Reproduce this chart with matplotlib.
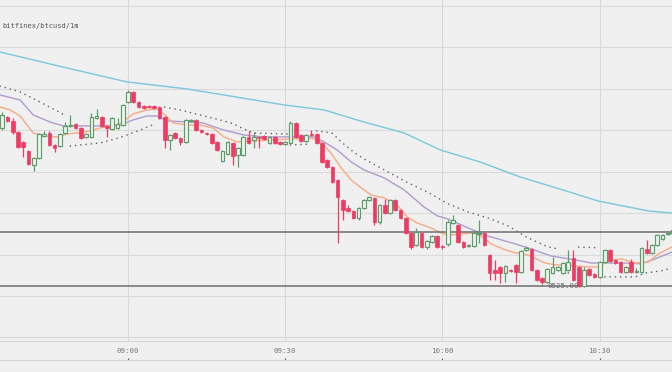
import numpy as np
import pandas as pd
import matplotlib
matplotlib.use("Agg")
import matplotlib.pyplot as plt

# bitfinex btcusd 1m candles, 08:36 onwards (prices)
start = "2019-01-01 08:36"
opens = [
    9601.0, 9606.3, 9604.4, 9599.1, 9594.3, 9589.9, 9583.2, 9586.5, 9597.1, 9598.6,
    9592.8, 9592.3, 9598.6, 9602.0, 9602.9, 9601.0, 9596.7, 9596.7, 9605.8, 9606.3,
    9602.0, 9600.5, 9601.0, 9602.4, 9613.5, 9618.4, 9613.5, 9611.6, 9611.6, 9611.6,
    9611.1, 9606.3, 9595.2, 9598.6, 9596.2, 9594.3, 9604.4, 9604.9, 9600.0, 9598.6,
    9598.1, 9594.3, 9585.1, 9588.5, 9593.8, 9588.0, 9588.0, 9596.7, 9595.2, 9596.7,
    9597.1, 9593.8, 9596.7, 9594.3, 9593.3, 9593.8, 9603.4, 9597.6, 9594.7, 9598.1,
    9598.1, 9593.8, 9585.6, 9582.2, 9575.9, 9566.3, 9562.4, 9561.0, 9557.6, 9562.4,
    9566.3, 9567.3, 9555.7, 9563.9, 9560.0, 9566.3, 9561.5, 9557.6, 9550.4, 9544.6,
    9550.4, 9543.6, 9546.1, 9548.9, 9544.1, 9545.1, 9555.2, 9554.2, 9546.1, 9544.1,
    9544.1, 9549.9, 9550.4, 9539.8, 9532.6, 9534.0, 9531.1, 9532.6, 9535.0, 9531.6,
    9542.2, 9542.7, 9532.6, 9528.7, 9526.8, 9531.1, 9532.6, 9531.1, 9532.6, 9538.3,
    9534.0, 9524.8, 9533.0, 9530.6, 9529.2, 9536.4, 9542.2, 9537.4, 9536.4, 9531.6,
    9536.4, 9531.6, 9531.6, 9542.7, 9540.8, 9544.6, 9547.5, 9549.9, 9550.4]
closes = [
    9607.3, 9604.4, 9599.1, 9591.8, 9591.8, 9583.7, 9586.5, 9598.1, 9598.1, 9592.8,
    9591.4, 9598.1, 9602.0, 9602.4, 9601.0, 9596.2, 9598.1, 9606.3, 9606.8, 9602.0,
    9601.0, 9605.8, 9602.9, 9612.1, 9618.4, 9613.5, 9611.1, 9610.6, 9611.1, 9610.6,
    9605.8, 9595.2, 9597.6, 9596.2, 9594.3, 9604.9, 9604.9, 9600.0, 9599.1, 9598.1,
    9593.8, 9590.4, 9589.9, 9594.3, 9587.5, 9591.4, 9596.7, 9593.8, 9596.7, 9596.2,
    9595.7, 9596.7, 9593.8, 9593.3, 9594.3, 9603.4, 9596.7, 9594.7, 9597.6, 9597.6,
    9593.8, 9584.6, 9582.2, 9575.0, 9567.7, 9561.5, 9561.0, 9557.6, 9562.4, 9566.3,
    9567.7, 9555.7, 9563.9, 9560.0, 9566.3, 9561.5, 9557.6, 9550.4, 9543.6, 9550.9,
    9543.6, 9546.5, 9548.9, 9543.6, 9543.6, 9555.7, 9556.7, 9546.1, 9543.6, 9544.6,
    9550.4, 9550.4, 9544.6, 9531.1, 9531.1, 9531.1, 9534.5, 9532.1, 9531.6, 9541.7,
    9543.2, 9532.6, 9527.7, 9526.8, 9533.0, 9534.0, 9534.0, 9535.9, 9536.4, 9527.7,
    9524.8, 9532.6, 9530.1, 9529.2, 9536.4, 9542.2, 9536.9, 9535.9, 9531.6, 9534.0,
    9531.6, 9532.1, 9543.2, 9540.8, 9544.6, 9549.4, 9549.4, 9550.4, 9551.8]
highs = [
    9608.7, 9606.8, 9605.8, 9599.6, 9594.7, 9590.4, 9587.0, 9598.6, 9599.6, 9599.6,
    9593.3, 9598.6, 9603.9, 9607.3, 9603.4, 9601.5, 9598.6, 9608.2, 9610.2, 9606.8,
    9602.4, 9606.3, 9605.8, 9612.6, 9619.3, 9618.8, 9614.0, 9612.1, 9612.0, 9612.1,
    9611.6, 9606.8, 9598.1, 9599.1, 9596.7, 9605.3, 9605.3, 9605.3, 9600.5, 9599.1,
    9598.6, 9594.7, 9590.4, 9594.7, 9594.3, 9591.8, 9597.1, 9599.6, 9599.1, 9597.1,
    9597.6, 9597.1, 9597.1, 9594.7, 9594.7, 9604.4, 9603.9, 9598.1, 9598.1, 9600.0,
    9598.6, 9594.3, 9586.1, 9582.7, 9576.4, 9566.8, 9563.9, 9561.5, 9562.9, 9566.8,
    9568.2, 9567.7, 9564.4, 9566.8, 9566.8, 9566.8, 9562.0, 9558.1, 9550.9, 9552.8,
    9550.9, 9547.0, 9549.4, 9549.4, 9544.6, 9556.7, 9559.1, 9554.7, 9546.5, 9545.1,
    9550.9, 9556.7, 9550.9, 9540.3, 9537.4, 9534.5, 9535.0, 9533.0, 9535.5, 9542.2,
    9544.1, 9543.2, 9533.0, 9529.2, 9533.5, 9538.8, 9534.5, 9536.4, 9542.2, 9542.2,
    9534.5, 9534.0, 9533.5, 9531.1, 9536.9, 9542.7, 9542.7, 9537.9, 9536.9, 9534.5,
    9537.9, 9533.5, 9543.6, 9547.0, 9545.1, 9549.9, 9549.9, 9550.9, 9552.3]
lows = [
    9600.0, 9603.9, 9598.1, 9591.4, 9587.0, 9583.2, 9580.3, 9586.1, 9596.7, 9592.3,
    9589.4, 9591.8, 9598.1, 9601.5, 9600.5, 9595.7, 9596.2, 9596.2, 9605.3, 9601.5,
    9596.7, 9600.0, 9600.5, 9602.0, 9613.1, 9613.1, 9610.6, 9610.2, 9610.7, 9610.2,
    9605.3, 9591.4, 9590.4, 9595.7, 9592.8, 9593.8, 9603.9, 9599.6, 9598.6, 9597.6,
    9593.3, 9589.9, 9584.6, 9588.0, 9583.2, 9582.2, 9587.5, 9593.3, 9591.4, 9591.4,
    9595.2, 9593.3, 9593.3, 9592.8, 9592.8, 9593.3, 9596.2, 9594.3, 9594.3, 9597.1,
    9593.3, 9584.1, 9581.7, 9574.5, 9545.6, 9556.7, 9560.5, 9557.1, 9556.7, 9561.9,
    9565.8, 9554.2, 9554.7, 9559.5, 9559.5, 9561.0, 9557.1, 9549.9, 9542.7, 9544.1,
    9543.2, 9542.7, 9545.6, 9543.2, 9542.7, 9544.1, 9554.7, 9545.6, 9543.2, 9543.6,
    9543.6, 9545.6, 9544.1, 9527.7, 9527.7, 9526.3, 9526.8, 9531.6, 9526.3, 9531.1,
    9541.7, 9532.1, 9527.3, 9525.8, 9526.3, 9530.6, 9532.1, 9530.6, 9532.1, 9527.3,
    9524.4, 9524.4, 9529.7, 9528.7, 9528.7, 9535.9, 9536.4, 9535.5, 9531.1, 9531.1,
    9531.1, 9531.1, 9531.1, 9540.3, 9540.3, 9544.1, 9547.0, 9549.4, 9549.9]

# indicator lines: (minute index, price)
ma_long_t = [-0.4, 12.4, 23.8, 35.3, 42.3, 53.8, 61.4, 69.0, 76.7, 83.6, 91.2, 98.8,
             107.0, 113.7, 123.3, 127.8]
ma_long_p = [9637.6, 9629.9, 9623.2, 9619.8, 9616.9, 9612.1, 9609.7, 9603.9, 9598.6,
             9590.4, 9584.6, 9577.4, 9571.1, 9565.8, 9561.0, 9560.0]

ma_mid_t = [-0.4, 3.4, 5.9, 9.1, 11.6, 18.7, 22.5, 25.0, 27.6, 29.5, 31.5, 35.3, 38.3,
            42.3, 46.1, 49.9, 55.1, 59.5, 61.4, 63.9, 66.6, 69.0, 72.9, 76.7, 80.5,
            83.0, 85.1, 88.9, 92.7, 97.9, 100.9, 104.7, 109.3, 112.4, 118.9, 121.9,
            124.6, 127.8]
ma_mid_p = [9616.9, 9614.5, 9607.3, 9603.9, 9602.0, 9602.0, 9602.4, 9604.9, 9606.8,
            9606.8, 9604.4, 9603.9, 9603.4, 9600.0, 9597.6, 9596.7, 9596.7, 9596.7,
            9594.3, 9590.4, 9584.6, 9580.8, 9576.9, 9571.1, 9562.9, 9558.6, 9557.1,
            9552.8, 9548.9, 9545.1, 9542.7, 9539.3, 9537.4, 9535.9, 9535.9, 9535.5,
            9537.9, 9541.2]

ma_fast_t = [-0.4, 1.5, 3.4, 5.9, 8.2, 10.5, 12.4, 15.8, 18.7, 22.5, 25.0, 27.6, 29.5,
             31.1, 32.6, 35.3, 37.7, 40.2, 42.3, 44.8, 47.5, 51.3, 55.1, 58.9, 60.8,
             62.7, 64.7, 66.6, 68.5, 70.4, 72.9, 75.3, 77.3, 79.2, 81.8, 83.7, 85.1,
             87.6, 89.9, 91.4, 93.3, 96.0, 97.9, 100.3, 103.6, 105.5, 107.4, 111.8,
             113.7, 115.6, 118.1, 120.8, 123.3, 125.2, 127.8]
ma_fast_p = [9611.1, 9609.7, 9606.8, 9598.6, 9597.1, 9596.7, 9598.1, 9599.1, 9601.0,
             9602.9, 9607.8, 9609.7, 9610.2, 9607.3, 9603.4, 9602.4, 9602.4, 9601.0,
             9596.7, 9594.3, 9594.7, 9595.2, 9595.7, 9596.2, 9594.3, 9589.0, 9581.7,
             9575.9, 9572.1, 9568.7, 9567.3, 9563.9, 9558.1, 9555.2, 9552.8, 9550.4,
             9549.4, 9549.9, 9550.4, 9548.9, 9545.1, 9542.2, 9540.8, 9539.8, 9535.9,
             9535.0, 9535.0, 9534.0, 9534.0, 9536.9, 9537.9, 9535.9, 9536.4, 9540.3,
             9543.6]

# parabolic SAR, NaN separates the flips
sar_t = [-0.4, 3.4, 7.2, 11.0, 12.0, np.nan,
         13.0, 18.7, 22.5, 26.3, 29.4, np.nan,
         31.0, 33.9, 37.7, 42.3, 44.2, 46.1, 48.0, 54.4, np.nan,
         55.0, 59.0, np.nan,
         60.0, 62.9, 64.9, 66.8, 69.0, 72.9, 77.1, 81.1, 85.1, 88.9, 92.7, 96.5, 100.3,
         104.2, 106.1, np.nan,
         107.0, 109.0, np.nan,
         110.0, 114.0, np.nan,
         115.0, 120.8, 122.7, 125.7, 127.8]
sar_p = [9621.2, 9618.4, 9613.5, 9608.5, 9607.0, np.nan,
         9592.3, 9593.8, 9596.4, 9600.0, 9603.2, np.nan,
         9611.1, 9609.7, 9607.3, 9604.4, 9602.9, 9600.5, 9598.6, 9598.1, np.nan,
         9592.8, 9593.3, np.nan,
         9599.6, 9598.6, 9593.8, 9589.9, 9586.1, 9580.8, 9575.0, 9570.2, 9564.4, 9560.5,
         9557.6, 9553.8, 9548.0, 9543.6, 9542.7, np.nan,
         9531.1, 9531.1, np.nan,
         9543.6, 9543.2, np.nan,
         9529.2, 9529.2, 9531.1, 9532.1, 9533.5]

levels = [9551.0, 9525.0]
level_label = "9525.00"
title = "bitfinex/btcusd/1m"

bg = "#f0f0f0"
grid_c = "#dadada"
up_c = "#5f9c6c"
down_c = "#ee3b63"

times = pd.date_range(start, periods=len(opens), freq="min")
idx = np.arange(len(opens))
o = np.array(opens); c = np.array(closes)
h = np.array(highs); l = np.array(lows)
up = c >= o

fig = plt.figure(figsize=(6.72, 3.72), dpi=100, facecolor=bg)
ax = fig.add_axes([0, 31 / 372, 1, 341 / 372])
ax.set_facecolor(bg)

ax.set_xlim(-0.43, 127.8)
ax.set_ylim(9498.3, 9662.7)
ax.set_yticks(np.arange(9500, 9661, 20))
tick_pos = [i for i, t in enumerate(times) if t.minute % 30 == 0]
ax.set_xticks(tick_pos)
ax.set_xticklabels([times[i].strftime("%H:%M") for i in tick_pos],
                   family="DejaVu Sans Mono", fontsize=5.3, color="#777777")
ax.tick_params(axis="x", length=0, pad=5)
ax.tick_params(axis="y", left=False, labelleft=False)
ax.grid(True, color=grid_c, lw=0.8)
ax.set_axisbelow(True)
for s in ["top", "left", "right"]:
    ax.spines[s].set_visible(False)
ax.spines["bottom"].set_color("#d6d6d6")
ax.spines["bottom"].set_linewidth(0.8)

# moving averages and SAR
ax.plot(ma_long_t, ma_long_p, color="#7fc8de", lw=1.05, zorder=2)
ax.plot(ma_mid_t, ma_mid_p, color="#b29fcf", lw=1.05, zorder=2)
ax.plot(ma_fast_t, ma_fast_p, color="#f6ad86", lw=1.05, zorder=2)
ax.plot(sar_t, sar_p, color="#666666", lw=1.2, linestyle=(0, (0.01, 3.15)),
        dash_capstyle="round", zorder=2)

for lv in levels:
    ax.axhline(lv, color="#6e6e6e", lw=1.1, zorder=3)

# candles
wick_col = np.where(up, up_c, down_c)
ax.vlines(idx, l, h, colors=wick_col, lw=0.9, zorder=4)
body_lo = np.minimum(o, c)
body_h = np.maximum(np.abs(c - o), 0.5)
ax.bar(idx[up], body_h[up], bottom=body_lo[up], width=0.7, color="#edf3ee",
       edgecolor=up_c, lw=0.85, zorder=5)
ax.bar(idx[~up], body_h[~up], bottom=body_lo[~up], width=0.7, color=down_c,
       edgecolor=down_c, lw=0.5, zorder=5)

ax.text(107, levels[1], level_label, ha="center", va="center", fontsize=5.3,
        family="DejaVu Sans Mono", color="#666666", zorder=6)

fig.text(2 / 672, 1 - 26 / 372, title, ha="left", va="center", fontsize=5.0,
         family="DejaVu Sans Mono", color="#555555")

# lower strip with the time tick marks
ax2 = fig.add_axes([0, 0, 1, 12 / 372])
ax2.set_facecolor(bg)
ax2.set_xlim(ax.get_xlim())
ax2.set_xticks(tick_pos)
ax2.tick_params(axis="x", bottom=False, top=True, labelbottom=False, direction="out",
                length=1.5, width=0.8, color="#555555")
ax2.set_yticks([])
for s in ["bottom", "left", "right"]:
    ax2.spines[s].set_visible(False)
ax2.spines["top"].set_color("#d6d6d6")
ax2.spines["top"].set_linewidth(0.8)

fig.savefig("out.png", dpi=100, facecolor=bg)
